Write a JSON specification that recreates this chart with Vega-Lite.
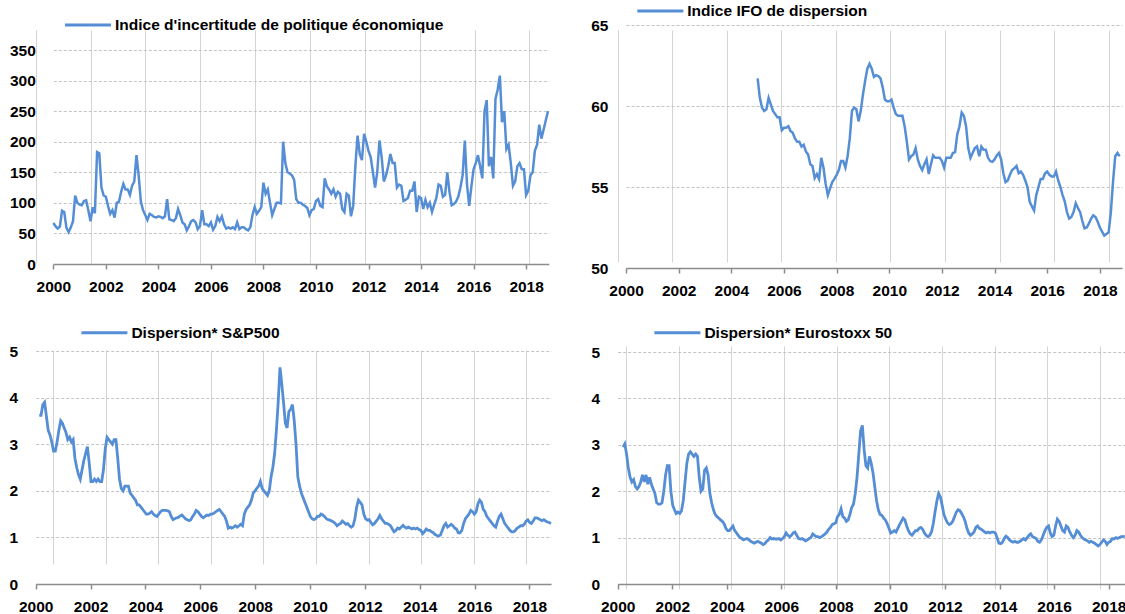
{
"$schema":"https://vega.github.io/schema/vega-lite/v6.json",
"background":"#ffffff",
"width":1125,"height":614,
"autosize":{"type":"none"},
"padding":0,
"config":{
"font":"Liberation Sans, Arial, sans-serif",
"view":{"stroke":null},
"axis":{"labelFont":"Liberation Sans, Arial, sans-serif","labelFontWeight":"bold","labelColor":"#000000","labelFlush":false,"labelOverlap":false,"grid":true},
"axisX":{"gridColor":"#d4d4d4","gridWidth":1,"domainColor":"#8c8c8c","domainWidth":1.5,"tickColor":"#8c8c8c","tickSize":5,"tickWidth":1.5,"labelFontSize":15.5,"labelPadding":10},
"axisY":{"gridColor":"#c4c4c4","gridDash":[3,2],"gridWidth":1,"domain":false,"ticks":false,"tickSize":0,"labelPadding":18,"labelFontSize":15.5},
"legend":{"orient":"none"}
},
"datasets":{
"epu":[
{"t":2000,"v":67},{"t":2000.083,"v":62},{"t":2000.167,"v":58},{"t":2000.25,"v":61},{"t":2000.333,"v":87},{"t":2000.417,"v":85},{"t":2000.5,"v":59},{"t":2000.583,"v":52},{"t":2000.667,"v":60},{"t":2000.75,"v":70},{"t":2000.833,"v":112},{"t":2000.917,"v":100},
{"t":2001,"v":97},{"t":2001.083,"v":96},{"t":2001.167,"v":103},{"t":2001.25,"v":104},{"t":2001.333,"v":88},{"t":2001.417,"v":70},{"t":2001.5,"v":93},{"t":2001.583,"v":83},{"t":2001.667,"v":183},{"t":2001.75,"v":181},{"t":2001.833,"v":125},{"t":2001.917,"v":112},
{"t":2002,"v":110},{"t":2002.083,"v":95},{"t":2002.167,"v":82},{"t":2002.25,"v":88},{"t":2002.333,"v":76},{"t":2002.417,"v":100},{"t":2002.5,"v":102},{"t":2002.583,"v":118},{"t":2002.667,"v":131},{"t":2002.75,"v":122},{"t":2002.833,"v":122},{"t":2002.917,"v":113},
{"t":2003,"v":128},{"t":2003.083,"v":135},{"t":2003.167,"v":178},{"t":2003.25,"v":145},{"t":2003.333,"v":102},{"t":2003.417,"v":88},{"t":2003.5,"v":80},{"t":2003.583,"v":72},{"t":2003.667,"v":82},{"t":2003.75,"v":80},{"t":2003.833,"v":77},{"t":2003.917,"v":76},
{"t":2004,"v":78},{"t":2004.083,"v":77},{"t":2004.167,"v":75},{"t":2004.25,"v":78},{"t":2004.333,"v":106},{"t":2004.417,"v":73},{"t":2004.5,"v":72},{"t":2004.583,"v":70},{"t":2004.667,"v":75},{"t":2004.75,"v":90},{"t":2004.833,"v":80},{"t":2004.917,"v":68},
{"t":2005,"v":65},{"t":2005.083,"v":55},{"t":2005.167,"v":62},{"t":2005.25,"v":70},{"t":2005.333,"v":72},{"t":2005.417,"v":68},{"t":2005.5,"v":57},{"t":2005.583,"v":62},{"t":2005.667,"v":88},{"t":2005.75,"v":65},{"t":2005.833,"v":65},{"t":2005.917,"v":62},
{"t":2006,"v":68},{"t":2006.083,"v":56},{"t":2006.167,"v":62},{"t":2006.25,"v":77},{"t":2006.333,"v":70},{"t":2006.417,"v":78},{"t":2006.5,"v":65},{"t":2006.583,"v":58},{"t":2006.667,"v":60},{"t":2006.75,"v":58},{"t":2006.833,"v":60},{"t":2006.917,"v":57},
{"t":2007,"v":68},{"t":2007.083,"v":57},{"t":2007.167,"v":60},{"t":2007.25,"v":60},{"t":2007.333,"v":57},{"t":2007.417,"v":55},{"t":2007.5,"v":60},{"t":2007.583,"v":80},{"t":2007.667,"v":93},{"t":2007.75,"v":82},{"t":2007.833,"v":87},{"t":2007.917,"v":93},
{"t":2008,"v":133},{"t":2008.083,"v":115},{"t":2008.167,"v":122},{"t":2008.25,"v":100},{"t":2008.333,"v":80},{"t":2008.417,"v":90},{"t":2008.5,"v":100},{"t":2008.583,"v":100},{"t":2008.667,"v":99},{"t":2008.75,"v":200},{"t":2008.833,"v":165},{"t":2008.917,"v":150},
{"t":2009,"v":148},{"t":2009.083,"v":145},{"t":2009.167,"v":138},{"t":2009.25,"v":106},{"t":2009.333,"v":100},{"t":2009.417,"v":100},{"t":2009.5,"v":97},{"t":2009.583,"v":95},{"t":2009.667,"v":92},{"t":2009.75,"v":80},{"t":2009.833,"v":88},{"t":2009.917,"v":90},
{"t":2010,"v":103},{"t":2010.083,"v":106},{"t":2010.167,"v":95},{"t":2010.25,"v":93},{"t":2010.333,"v":140},{"t":2010.417,"v":127},{"t":2010.5,"v":122},{"t":2010.583,"v":115},{"t":2010.667,"v":122},{"t":2010.75,"v":110},{"t":2010.833,"v":118},{"t":2010.917,"v":115},
{"t":2011,"v":90},{"t":2011.083,"v":85},{"t":2011.167,"v":115},{"t":2011.25,"v":112},{"t":2011.333,"v":78},{"t":2011.417,"v":95},{"t":2011.5,"v":160},{"t":2011.583,"v":210},{"t":2011.667,"v":180},{"t":2011.75,"v":170},{"t":2011.833,"v":213},{"t":2011.917,"v":200},
{"t":2012,"v":185},{"t":2012.083,"v":175},{"t":2012.167,"v":150},{"t":2012.25,"v":125},{"t":2012.333,"v":150},{"t":2012.417,"v":202},{"t":2012.5,"v":175},{"t":2012.583,"v":135},{"t":2012.667,"v":145},{"t":2012.75,"v":160},{"t":2012.833,"v":180},{"t":2012.917,"v":165},
{"t":2013,"v":165},{"t":2013.083,"v":125},{"t":2013.167,"v":130},{"t":2013.25,"v":128},{"t":2013.333,"v":103},{"t":2013.417,"v":105},{"t":2013.5,"v":108},{"t":2013.583,"v":120},{"t":2013.667,"v":120},{"t":2013.75,"v":135},{"t":2013.833,"v":85},{"t":2013.917,"v":110},
{"t":2014,"v":108},{"t":2014.083,"v":90},{"t":2014.167,"v":105},{"t":2014.25,"v":93},{"t":2014.333,"v":100},{"t":2014.417,"v":85},{"t":2014.5,"v":97},{"t":2014.583,"v":108},{"t":2014.667,"v":130},{"t":2014.75,"v":128},{"t":2014.833,"v":110},{"t":2014.917,"v":113},
{"t":2015,"v":150},{"t":2015.083,"v":118},{"t":2015.167,"v":96},{"t":2015.25,"v":98},{"t":2015.333,"v":102},{"t":2015.417,"v":110},{"t":2015.5,"v":125},{"t":2015.583,"v":145},{"t":2015.667,"v":202},{"t":2015.75,"v":130},{"t":2015.833,"v":95},{"t":2015.917,"v":127},
{"t":2016,"v":155},{"t":2016.083,"v":165},{"t":2016.167,"v":178},{"t":2016.25,"v":160},{"t":2016.333,"v":140},{"t":2016.417,"v":250},{"t":2016.5,"v":268},{"t":2016.583,"v":160},{"t":2016.667,"v":175},{"t":2016.75,"v":140},{"t":2016.833,"v":270},{"t":2016.917,"v":285},
{"t":2017,"v":308},{"t":2017.083,"v":232},{"t":2017.167,"v":250},{"t":2017.25,"v":188},{"t":2017.333,"v":195},{"t":2017.417,"v":165},{"t":2017.5,"v":128},{"t":2017.583,"v":135},{"t":2017.667,"v":160},{"t":2017.75,"v":165},{"t":2017.833,"v":155},{"t":2017.917,"v":155},
{"t":2018,"v":113},{"t":2018.083,"v":120},{"t":2018.167,"v":145},{"t":2018.25,"v":150},{"t":2018.333,"v":185},{"t":2018.417,"v":195},{"t":2018.5,"v":228},{"t":2018.583,"v":205},{"t":2018.667,"v":220},{"t":2018.75,"v":235},{"t":2018.833,"v":250}
],
"ifo":[
{"t":2005,"v":61.7},{"t":2005.083,"v":60.5},{"t":2005.167,"v":59.9},{"t":2005.25,"v":59.7},{"t":2005.333,"v":59.8},{"t":2005.417,"v":60.5},{"t":2005.5,"v":60.1},{"t":2005.583,"v":59.7},{"t":2005.667,"v":59.5},{"t":2005.75,"v":59.3},{"t":2005.833,"v":59.3},{"t":2005.917,"v":58.5},
{"t":2006,"v":58.65},{"t":2006.083,"v":58.65},{"t":2006.167,"v":58.75},{"t":2006.25,"v":58.45},{"t":2006.333,"v":58.35},{"t":2006.417,"v":58.0},{"t":2006.5,"v":57.8},{"t":2006.583,"v":57.8},{"t":2006.667,"v":57.5},{"t":2006.75,"v":57.6},{"t":2006.833,"v":57.2},{"t":2006.917,"v":57.0},
{"t":2007,"v":56.4},{"t":2007.083,"v":56.3},{"t":2007.167,"v":55.55},{"t":2007.25,"v":55.8},{"t":2007.333,"v":55.5},{"t":2007.417,"v":56.8},{"t":2007.5,"v":56.2},{"t":2007.583,"v":55.2},{"t":2007.667,"v":54.5},{"t":2007.75,"v":54.9},{"t":2007.833,"v":55.3},{"t":2007.917,"v":55.5},
{"t":2008,"v":55.75},{"t":2008.083,"v":56.05},{"t":2008.167,"v":56.6},{"t":2008.25,"v":56.6},{"t":2008.333,"v":56.2},{"t":2008.417,"v":56.9},{"t":2008.5,"v":58.0},{"t":2008.583,"v":59.7},{"t":2008.667,"v":59.9},{"t":2008.75,"v":59.8},{"t":2008.833,"v":59.05},{"t":2008.917,"v":59.7},
{"t":2009,"v":60.7},{"t":2009.083,"v":61.55},{"t":2009.167,"v":62.3},{"t":2009.25,"v":62.6},{"t":2009.333,"v":62.3},{"t":2009.417,"v":61.8},{"t":2009.5,"v":61.9},{"t":2009.583,"v":61.85},{"t":2009.667,"v":61.7},{"t":2009.75,"v":61.15},{"t":2009.833,"v":60.4},{"t":2009.917,"v":60.3},
{"t":2010,"v":60.3},{"t":2010.083,"v":60.4},{"t":2010.167,"v":59.9},{"t":2010.25,"v":59.5},{"t":2010.333,"v":59.4},{"t":2010.417,"v":59.4},{"t":2010.5,"v":59.4},{"t":2010.583,"v":58.75},{"t":2010.667,"v":57.8},{"t":2010.75,"v":56.7},{"t":2010.833,"v":56.9},{"t":2010.917,"v":57.0},
{"t":2011,"v":57.4},{"t":2011.083,"v":56.7},{"t":2011.167,"v":56.3},{"t":2011.25,"v":56.05},{"t":2011.333,"v":56.4},{"t":2011.417,"v":56.7},{"t":2011.5,"v":55.8},{"t":2011.583,"v":56.4},{"t":2011.667,"v":56.95},{"t":2011.75,"v":56.8},{"t":2011.833,"v":56.8},{"t":2011.917,"v":56.8},
{"t":2012,"v":56.6},{"t":2012.083,"v":56.2},{"t":2012.167,"v":56.8},{"t":2012.25,"v":56.8},{"t":2012.333,"v":56.8},{"t":2012.417,"v":57.1},{"t":2012.5,"v":57.15},{"t":2012.583,"v":58.25},{"t":2012.667,"v":58.75},{"t":2012.75,"v":59.6},{"t":2012.833,"v":59.4},{"t":2012.917,"v":58.75},
{"t":2013,"v":57.4},{"t":2013.083,"v":56.8},{"t":2013.167,"v":57.1},{"t":2013.25,"v":57.4},{"t":2013.333,"v":57.5},{"t":2013.417,"v":56.9},{"t":2013.5,"v":57.5},{"t":2013.583,"v":57.3},{"t":2013.667,"v":57.3},{"t":2013.75,"v":56.8},{"t":2013.833,"v":56.6},{"t":2013.917,"v":56.55},
{"t":2014,"v":56.7},{"t":2014.083,"v":56.95},{"t":2014.167,"v":57.1},{"t":2014.25,"v":56.7},{"t":2014.333,"v":55.85},{"t":2014.417,"v":55.3},{"t":2014.5,"v":55.4},{"t":2014.583,"v":55.75},{"t":2014.667,"v":56.05},{"t":2014.75,"v":56.15},{"t":2014.833,"v":56.3},{"t":2014.917,"v":55.85},
{"t":2015,"v":55.95},{"t":2015.083,"v":55.75},{"t":2015.167,"v":55.4},{"t":2015.25,"v":55.0},{"t":2015.333,"v":54.1},{"t":2015.417,"v":53.8},{"t":2015.5,"v":53.55},{"t":2015.583,"v":54.5},{"t":2015.667,"v":55.0},{"t":2015.75,"v":55.5},{"t":2015.833,"v":55.5},{"t":2015.917,"v":55.85},
{"t":2016,"v":55.95},{"t":2016.083,"v":55.75},{"t":2016.167,"v":55.65},{"t":2016.25,"v":55.65},{"t":2016.333,"v":55.95},{"t":2016.417,"v":55.4},{"t":2016.5,"v":55.0},{"t":2016.583,"v":54.5},{"t":2016.667,"v":54.1},{"t":2016.75,"v":53.45},{"t":2016.833,"v":53.05},{"t":2016.917,"v":53.15},
{"t":2017,"v":53.45},{"t":2017.083,"v":54.0},{"t":2017.167,"v":53.7},{"t":2017.25,"v":53.45},{"t":2017.333,"v":52.9},{"t":2017.417,"v":52.45},{"t":2017.5,"v":52.5},{"t":2017.583,"v":52.75},{"t":2017.667,"v":53.05},{"t":2017.75,"v":53.25},{"t":2017.833,"v":53.15},{"t":2017.917,"v":52.85},
{"t":2018,"v":52.5},{"t":2018.083,"v":52.25},{"t":2018.167,"v":52.0},{"t":2018.25,"v":52.1},{"t":2018.333,"v":52.2},{"t":2018.417,"v":53.45},{"t":2018.5,"v":55.35},{"t":2018.583,"v":56.9},{"t":2018.667,"v":57.1},{"t":2018.75,"v":56.9}
],
"sp":[
{"t":2000.13,"v":3.62},{"t":2000.195,"v":3.62},{"t":2000.26,"v":3.85},{"t":2000.325,"v":3.9},{"t":2000.39,"v":3.6},{"t":2000.455,"v":3.3},{"t":2000.52,"v":3.2},{"t":2000.585,"v":3.05},{"t":2000.65,"v":2.85},{"t":2000.715,"v":2.85},{"t":2000.78,"v":3.05},{"t":2000.845,"v":3.3},{"t":2000.91,"v":3.5},{"t":2000.975,"v":3.45},
{"t":2001.04,"v":3.35},{"t":2001.105,"v":3.25},{"t":2001.17,"v":3.1},{"t":2001.235,"v":3.15},{"t":2001.3,"v":3.05},{"t":2001.365,"v":3.1},{"t":2001.43,"v":2.7},{"t":2001.495,"v":2.5},{"t":2001.56,"v":2.35},{"t":2001.625,"v":2.25},{"t":2001.69,"v":2.45},{"t":2001.755,"v":2.65},{"t":2001.82,"v":2.8},{"t":2001.885,"v":2.95},{"t":2001.95,"v":2.6},
{"t":2002.015,"v":2.2},{"t":2002.08,"v":2.2},{"t":2002.145,"v":2.25},{"t":2002.21,"v":2.2},{"t":2002.275,"v":2.25},{"t":2002.34,"v":2.2},{"t":2002.405,"v":2.2},{"t":2002.47,"v":2.45},{"t":2002.535,"v":2.9},{"t":2002.6,"v":3.15},{"t":2002.665,"v":3.1},{"t":2002.73,"v":3.05},{"t":2002.795,"v":3.0},{"t":2002.86,"v":3.1},{"t":2002.925,"v":3.1},{"t":2002.99,"v":2.7},
{"t":2003.055,"v":2.25},{"t":2003.12,"v":2.05},{"t":2003.185,"v":2.0},{"t":2003.25,"v":2.1},{"t":2003.315,"v":2.1},{"t":2003.38,"v":2.1},{"t":2003.445,"v":1.95},{"t":2003.51,"v":1.9},{"t":2003.575,"v":1.85},{"t":2003.64,"v":1.8},{"t":2003.705,"v":1.7},{"t":2003.77,"v":1.7},{"t":2003.835,"v":1.65},{"t":2003.9,"v":1.6},{"t":2003.965,"v":1.55},
{"t":2004.03,"v":1.5},{"t":2004.095,"v":1.5},{"t":2004.16,"v":1.52},{"t":2004.225,"v":1.55},{"t":2004.29,"v":1.5},{"t":2004.355,"v":1.47},{"t":2004.42,"v":1.45},{"t":2004.485,"v":1.5},{"t":2004.55,"v":1.55},{"t":2004.615,"v":1.58},{"t":2004.68,"v":1.58},{"t":2004.745,"v":1.58},{"t":2004.81,"v":1.57},{"t":2004.875,"v":1.55},{"t":2004.94,"v":1.45},
{"t":2005.005,"v":1.38},{"t":2005.07,"v":1.4},{"t":2005.135,"v":1.42},{"t":2005.2,"v":1.43},{"t":2005.265,"v":1.46},{"t":2005.33,"v":1.48},{"t":2005.395,"v":1.44},{"t":2005.46,"v":1.4},{"t":2005.525,"v":1.38},{"t":2005.59,"v":1.36},{"t":2005.655,"v":1.38},{"t":2005.72,"v":1.45},{"t":2005.785,"v":1.5},{"t":2005.85,"v":1.58},{"t":2005.915,"v":1.55},{"t":2005.98,"v":1.5},
{"t":2006.045,"v":1.45},{"t":2006.11,"v":1.42},{"t":2006.175,"v":1.45},{"t":2006.24,"v":1.48},{"t":2006.305,"v":1.47},{"t":2006.37,"v":1.5},{"t":2006.435,"v":1.5},{"t":2006.5,"v":1.52},{"t":2006.565,"v":1.55},{"t":2006.63,"v":1.58},{"t":2006.695,"v":1.6},{"t":2006.76,"v":1.55},{"t":2006.825,"v":1.5},{"t":2006.89,"v":1.45},{"t":2006.955,"v":1.35},
{"t":2007.02,"v":1.2},{"t":2007.085,"v":1.22},{"t":2007.15,"v":1.2},{"t":2007.215,"v":1.22},{"t":2007.28,"v":1.25},{"t":2007.345,"v":1.22},{"t":2007.41,"v":1.25},{"t":2007.475,"v":1.28},{"t":2007.54,"v":1.25},{"t":2007.605,"v":1.5},{"t":2007.67,"v":1.6},{"t":2007.735,"v":1.65},{"t":2007.8,"v":1.7},{"t":2007.865,"v":1.8},{"t":2007.93,"v":1.95},{"t":2007.995,"v":2.0},
{"t":2008.06,"v":2.05},{"t":2008.125,"v":2.1},{"t":2008.19,"v":2.2},{"t":2008.255,"v":2.05},{"t":2008.32,"v":2.0},{"t":2008.385,"v":1.95},{"t":2008.45,"v":1.9},{"t":2008.515,"v":2.0},{"t":2008.58,"v":2.3},{"t":2008.645,"v":2.5},{"t":2008.71,"v":2.8},{"t":2008.775,"v":3.3},{"t":2008.84,"v":3.9},{"t":2008.905,"v":4.65},{"t":2008.97,"v":4.3},
{"t":2009.035,"v":3.9},{"t":2009.1,"v":3.45},{"t":2009.165,"v":3.35},{"t":2009.23,"v":3.7},{"t":2009.295,"v":3.75},{"t":2009.36,"v":3.85},{"t":2009.425,"v":3.5},{"t":2009.49,"v":3.0},{"t":2009.555,"v":2.3},{"t":2009.62,"v":2.1},{"t":2009.685,"v":1.95},{"t":2009.75,"v":1.85},{"t":2009.815,"v":1.75},{"t":2009.88,"v":1.65},{"t":2009.945,"v":1.55},
{"t":2010.01,"v":1.45},{"t":2010.075,"v":1.4},{"t":2010.14,"v":1.38},{"t":2010.205,"v":1.4},{"t":2010.27,"v":1.45},{"t":2010.335,"v":1.45},{"t":2010.4,"v":1.5},{"t":2010.465,"v":1.48},{"t":2010.53,"v":1.45},{"t":2010.595,"v":1.4},{"t":2010.66,"v":1.38},{"t":2010.725,"v":1.37},{"t":2010.79,"v":1.35},{"t":2010.855,"v":1.33},{"t":2010.92,"v":1.3},{"t":2010.985,"v":1.25},
{"t":2011.05,"v":1.28},{"t":2011.115,"v":1.3},{"t":2011.18,"v":1.35},{"t":2011.245,"v":1.32},{"t":2011.31,"v":1.28},{"t":2011.375,"v":1.3},{"t":2011.44,"v":1.25},{"t":2011.505,"v":1.22},{"t":2011.57,"v":1.25},{"t":2011.635,"v":1.4},{"t":2011.7,"v":1.65},{"t":2011.765,"v":1.8},{"t":2011.83,"v":1.75},{"t":2011.895,"v":1.7},{"t":2011.96,"v":1.5},
{"t":2012.025,"v":1.4},{"t":2012.09,"v":1.37},{"t":2012.155,"v":1.38},{"t":2012.22,"v":1.32},{"t":2012.285,"v":1.27},{"t":2012.35,"v":1.3},{"t":2012.415,"v":1.35},{"t":2012.48,"v":1.4},{"t":2012.545,"v":1.47},{"t":2012.61,"v":1.4},{"t":2012.675,"v":1.35},{"t":2012.74,"v":1.3},{"t":2012.805,"v":1.3},{"t":2012.87,"v":1.28},{"t":2012.935,"v":1.25},
{"t":2013.0,"v":1.18},{"t":2013.065,"v":1.12},{"t":2013.13,"v":1.15},{"t":2013.195,"v":1.2},{"t":2013.26,"v":1.18},{"t":2013.325,"v":1.22},{"t":2013.39,"v":1.26},{"t":2013.455,"v":1.22},{"t":2013.52,"v":1.2},{"t":2013.585,"v":1.22},{"t":2013.65,"v":1.2},{"t":2013.715,"v":1.18},{"t":2013.78,"v":1.2},{"t":2013.845,"v":1.18},{"t":2013.91,"v":1.2},{"t":2013.975,"v":1.17},
{"t":2014.04,"v":1.15},{"t":2014.105,"v":1.08},{"t":2014.17,"v":1.12},{"t":2014.235,"v":1.18},{"t":2014.3,"v":1.15},{"t":2014.365,"v":1.15},{"t":2014.43,"v":1.12},{"t":2014.495,"v":1.1},{"t":2014.56,"v":1.06},{"t":2014.625,"v":1.04},{"t":2014.69,"v":1.03},{"t":2014.755,"v":1.05},{"t":2014.82,"v":1.15},{"t":2014.885,"v":1.25},{"t":2014.95,"v":1.3},
{"t":2015.015,"v":1.22},{"t":2015.08,"v":1.25},{"t":2015.145,"v":1.28},{"t":2015.21,"v":1.25},{"t":2015.275,"v":1.2},{"t":2015.34,"v":1.18},{"t":2015.405,"v":1.1},{"t":2015.47,"v":1.1},{"t":2015.535,"v":1.15},{"t":2015.6,"v":1.3},{"t":2015.665,"v":1.4},{"t":2015.73,"v":1.45},{"t":2015.795,"v":1.5},{"t":2015.86,"v":1.58},{"t":2015.925,"v":1.55},{"t":2015.99,"v":1.5},
{"t":2016.055,"v":1.55},{"t":2016.12,"v":1.72},{"t":2016.185,"v":1.8},{"t":2016.25,"v":1.75},{"t":2016.315,"v":1.6},{"t":2016.38,"v":1.55},{"t":2016.445,"v":1.45},{"t":2016.51,"v":1.4},{"t":2016.575,"v":1.35},{"t":2016.64,"v":1.3},{"t":2016.705,"v":1.25},{"t":2016.77,"v":1.22},{"t":2016.835,"v":1.35},{"t":2016.9,"v":1.45},{"t":2016.965,"v":1.5},
{"t":2017.03,"v":1.4},{"t":2017.095,"v":1.3},{"t":2017.16,"v":1.25},{"t":2017.225,"v":1.2},{"t":2017.29,"v":1.15},{"t":2017.355,"v":1.12},{"t":2017.42,"v":1.12},{"t":2017.485,"v":1.15},{"t":2017.55,"v":1.2},{"t":2017.615,"v":1.22},{"t":2017.68,"v":1.25},{"t":2017.745,"v":1.25},{"t":2017.81,"v":1.28},{"t":2017.875,"v":1.35},{"t":2017.94,"v":1.38},
{"t":2018.005,"v":1.32},{"t":2018.07,"v":1.3},{"t":2018.135,"v":1.35},{"t":2018.2,"v":1.42},{"t":2018.265,"v":1.42},{"t":2018.33,"v":1.4},{"t":2018.395,"v":1.38},{"t":2018.46,"v":1.36},{"t":2018.525,"v":1.38},{"t":2018.59,"v":1.35},{"t":2018.655,"v":1.33},{"t":2018.72,"v":1.32},{"t":2018.785,"v":1.3}
],
"es":[
{"t":2000.195,"v":2.95},{"t":2000.26,"v":3.02},{"t":2000.325,"v":2.8},{"t":2000.39,"v":2.5},{"t":2000.455,"v":2.3},{"t":2000.52,"v":2.2},{"t":2000.585,"v":2.25},{"t":2000.65,"v":2.1},{"t":2000.715,"v":2.05},{"t":2000.78,"v":2.1},{"t":2000.845,"v":2.2},{"t":2000.91,"v":2.35},{"t":2000.975,"v":2.2},
{"t":2001.04,"v":2.35},{"t":2001.105,"v":2.15},{"t":2001.17,"v":2.3},{"t":2001.235,"v":2.15},{"t":2001.3,"v":2.05},{"t":2001.365,"v":1.95},{"t":2001.43,"v":1.75},{"t":2001.495,"v":1.72},{"t":2001.56,"v":1.72},{"t":2001.625,"v":1.75},{"t":2001.69,"v":2.0},{"t":2001.755,"v":2.35},{"t":2001.82,"v":2.55},{"t":2001.885,"v":2.55},{"t":2001.95,"v":2.0},
{"t":2002.015,"v":1.7},{"t":2002.08,"v":1.6},{"t":2002.145,"v":1.52},{"t":2002.21,"v":1.55},{"t":2002.275,"v":1.52},{"t":2002.34,"v":1.58},{"t":2002.405,"v":1.8},{"t":2002.47,"v":2.2},{"t":2002.535,"v":2.6},{"t":2002.6,"v":2.8},{"t":2002.665,"v":2.85},{"t":2002.73,"v":2.8},{"t":2002.795,"v":2.75},{"t":2002.86,"v":2.8},{"t":2002.925,"v":2.75},{"t":2002.99,"v":2.3},
{"t":2003.055,"v":2.0},{"t":2003.12,"v":2.05},{"t":2003.185,"v":2.45},{"t":2003.25,"v":2.5},{"t":2003.315,"v":2.35},{"t":2003.38,"v":1.95},{"t":2003.445,"v":1.75},{"t":2003.51,"v":1.6},{"t":2003.575,"v":1.5},{"t":2003.64,"v":1.45},{"t":2003.705,"v":1.42},{"t":2003.77,"v":1.38},{"t":2003.835,"v":1.35},{"t":2003.9,"v":1.3},{"t":2003.965,"v":1.2},
{"t":2004.03,"v":1.15},{"t":2004.095,"v":1.15},{"t":2004.16,"v":1.2},{"t":2004.225,"v":1.25},{"t":2004.29,"v":1.15},{"t":2004.355,"v":1.1},{"t":2004.42,"v":1.05},{"t":2004.485,"v":1.0},{"t":2004.55,"v":0.98},{"t":2004.615,"v":0.95},{"t":2004.68,"v":0.97},{"t":2004.745,"v":0.98},{"t":2004.81,"v":0.95},{"t":2004.875,"v":0.92},{"t":2004.94,"v":0.9},
{"t":2005.005,"v":0.88},{"t":2005.07,"v":0.9},{"t":2005.135,"v":0.92},{"t":2005.2,"v":0.9},{"t":2005.265,"v":0.88},{"t":2005.33,"v":0.85},{"t":2005.395,"v":0.87},{"t":2005.46,"v":0.92},{"t":2005.525,"v":0.95},{"t":2005.59,"v":1.0},{"t":2005.655,"v":0.97},{"t":2005.72,"v":0.98},{"t":2005.785,"v":0.97},{"t":2005.85,"v":0.97},{"t":2005.915,"v":0.98},{"t":2005.98,"v":0.95},
{"t":2006.045,"v":0.98},{"t":2006.11,"v":1.02},{"t":2006.175,"v":1.1},{"t":2006.24,"v":1.05},{"t":2006.305,"v":1.02},{"t":2006.37,"v":1.05},{"t":2006.435,"v":1.1},{"t":2006.5,"v":1.12},{"t":2006.565,"v":1.05},{"t":2006.63,"v":0.98},{"t":2006.695,"v":0.97},{"t":2006.76,"v":0.98},{"t":2006.825,"v":0.95},{"t":2006.89,"v":0.93},{"t":2006.955,"v":0.95},
{"t":2007.02,"v":0.98},{"t":2007.085,"v":1.0},{"t":2007.15,"v":1.08},{"t":2007.215,"v":1.05},{"t":2007.28,"v":1.02},{"t":2007.345,"v":1.02},{"t":2007.41,"v":1.0},{"t":2007.475,"v":1.02},{"t":2007.54,"v":1.05},{"t":2007.605,"v":1.08},{"t":2007.67,"v":1.12},{"t":2007.735,"v":1.18},{"t":2007.8,"v":1.22},{"t":2007.865,"v":1.28},{"t":2007.93,"v":1.3},{"t":2007.995,"v":1.32},
{"t":2008.06,"v":1.45},{"t":2008.125,"v":1.5},{"t":2008.19,"v":1.62},{"t":2008.255,"v":1.45},{"t":2008.32,"v":1.42},{"t":2008.385,"v":1.35},{"t":2008.45,"v":1.38},{"t":2008.515,"v":1.5},{"t":2008.58,"v":1.65},{"t":2008.645,"v":1.72},{"t":2008.71,"v":1.95},{"t":2008.775,"v":2.3},{"t":2008.84,"v":2.8},{"t":2008.905,"v":3.3},{"t":2008.97,"v":3.42},
{"t":2009.035,"v":2.9},{"t":2009.1,"v":2.55},{"t":2009.165,"v":2.5},{"t":2009.23,"v":2.75},{"t":2009.295,"v":2.6},{"t":2009.36,"v":2.4},{"t":2009.425,"v":2.1},{"t":2009.49,"v":1.8},{"t":2009.555,"v":1.6},{"t":2009.62,"v":1.5},{"t":2009.685,"v":1.48},{"t":2009.75,"v":1.42},{"t":2009.815,"v":1.38},{"t":2009.88,"v":1.3},{"t":2009.945,"v":1.2},
{"t":2010.01,"v":1.1},{"t":2010.075,"v":1.12},{"t":2010.14,"v":1.15},{"t":2010.205,"v":1.12},{"t":2010.27,"v":1.2},{"t":2010.335,"v":1.28},{"t":2010.4,"v":1.35},{"t":2010.465,"v":1.42},{"t":2010.53,"v":1.38},{"t":2010.595,"v":1.25},{"t":2010.66,"v":1.15},{"t":2010.725,"v":1.08},{"t":2010.79,"v":1.05},{"t":2010.855,"v":1.1},{"t":2010.92,"v":1.15},{"t":2010.985,"v":1.15},
{"t":2011.05,"v":1.2},{"t":2011.115,"v":1.22},{"t":2011.18,"v":1.18},{"t":2011.245,"v":1.1},{"t":2011.31,"v":1.05},{"t":2011.375,"v":1.02},{"t":2011.44,"v":1.05},{"t":2011.505,"v":1.12},{"t":2011.57,"v":1.3},{"t":2011.635,"v":1.55},{"t":2011.7,"v":1.78},{"t":2011.765,"v":1.95},{"t":2011.83,"v":1.88},{"t":2011.895,"v":1.7},{"t":2011.96,"v":1.5},
{"t":2012.025,"v":1.4},{"t":2012.09,"v":1.32},{"t":2012.155,"v":1.28},{"t":2012.22,"v":1.3},{"t":2012.285,"v":1.35},{"t":2012.35,"v":1.45},{"t":2012.415,"v":1.55},{"t":2012.48,"v":1.6},{"t":2012.545,"v":1.58},{"t":2012.61,"v":1.52},{"t":2012.675,"v":1.45},{"t":2012.74,"v":1.35},{"t":2012.805,"v":1.2},{"t":2012.87,"v":1.1},{"t":2012.935,"v":1.05},
{"t":2013.0,"v":1.08},{"t":2013.065,"v":1.12},{"t":2013.13,"v":1.22},{"t":2013.195,"v":1.25},{"t":2013.26,"v":1.2},{"t":2013.325,"v":1.18},{"t":2013.39,"v":1.15},{"t":2013.455,"v":1.12},{"t":2013.52,"v":1.1},{"t":2013.585,"v":1.12},{"t":2013.65,"v":1.1},{"t":2013.715,"v":1.12},{"t":2013.78,"v":1.12},{"t":2013.845,"v":1.1},{"t":2013.91,"v":1.0},{"t":2013.975,"v":0.88},
{"t":2014.04,"v":0.87},{"t":2014.105,"v":0.9},{"t":2014.17,"v":0.98},{"t":2014.235,"v":1.03},{"t":2014.3,"v":1.0},{"t":2014.365,"v":0.95},{"t":2014.43,"v":0.92},{"t":2014.495,"v":0.9},{"t":2014.56,"v":0.92},{"t":2014.625,"v":0.9},{"t":2014.69,"v":0.9},{"t":2014.755,"v":0.92},{"t":2014.82,"v":0.95},{"t":2014.885,"v":0.98},{"t":2014.95,"v":0.95},
{"t":2015.015,"v":1.0},{"t":2015.08,"v":1.05},{"t":2015.145,"v":1.08},{"t":2015.21,"v":1.02},{"t":2015.275,"v":1.0},{"t":2015.34,"v":0.98},{"t":2015.405,"v":0.92},{"t":2015.47,"v":0.9},{"t":2015.535,"v":0.95},{"t":2015.6,"v":1.05},{"t":2015.665,"v":1.15},{"t":2015.73,"v":1.22},{"t":2015.795,"v":1.25},{"t":2015.86,"v":1.1},{"t":2015.925,"v":1.02},{"t":2015.99,"v":1.05},
{"t":2016.055,"v":1.25},{"t":2016.12,"v":1.4},{"t":2016.185,"v":1.35},{"t":2016.25,"v":1.25},{"t":2016.315,"v":1.15},{"t":2016.38,"v":1.12},{"t":2016.445,"v":1.25},{"t":2016.51,"v":1.22},{"t":2016.575,"v":1.12},{"t":2016.64,"v":1.05},{"t":2016.705,"v":1.0},{"t":2016.77,"v":1.05},{"t":2016.835,"v":1.15},{"t":2016.9,"v":1.12},{"t":2016.965,"v":1.05},
{"t":2017.03,"v":1.0},{"t":2017.095,"v":0.97},{"t":2017.16,"v":0.95},{"t":2017.225,"v":0.93},{"t":2017.29,"v":0.9},{"t":2017.355,"v":0.92},{"t":2017.42,"v":0.9},{"t":2017.485,"v":0.88},{"t":2017.55,"v":0.85},{"t":2017.615,"v":0.82},{"t":2017.68,"v":0.85},{"t":2017.745,"v":0.9},{"t":2017.81,"v":0.95},{"t":2017.875,"v":0.92},{"t":2017.94,"v":0.85},
{"t":2018.005,"v":0.9},{"t":2018.07,"v":0.92},{"t":2018.135,"v":0.98},{"t":2018.2,"v":0.97},{"t":2018.265,"v":1.0},{"t":2018.33,"v":0.98},{"t":2018.395,"v":1.0},{"t":2018.46,"v":1.02},{"t":2018.525,"v":1.02},{"t":2018.59,"v":1.03}
]
},
"resolve":{"scale":{"x":"independent","y":"independent","color":"independent"},"axis":{"x":"independent","y":"independent"},"legend":{"color":"independent"}},
"layer":[
{"data":{"name":"epu"},"mark":{"type":"line","strokeWidth":2.5},
"encoding":{
"x":{"field":"t","type":"quantitative","scale":{"domain":[2000,2018.86],"range":[53.3,548.7],"nice":false,"zero":false},"axis":{"title":null,"orient":"bottom","offset":-350,"grid":true,"values":[2000,2002,2004,2006,2008,2010,2012,2014,2016,2018],"format":"d"}},
"y":{"field":"v","type":"quantitative","scale":{"domain":[0,350],"range":[264,50],"nice":false},"axis":{"title":null,"orient":"left","offset":-53.3,"grid":true,"values":[0,50,100,150,200,250,300,350]}},
"color":{"datum":"Indice d'incertitude de politique économique","scale":{"range":["#558ED5"]},"legend":{"title":null,"orient":"none","legendX":65,"legendY":17.25,"padding":0,"symbolType":"M-10,0H10","symbolSize":21.16,"symbolStrokeWidth":3,"symbolOffset":15.25,"labelOffset":19.25,"labelFont":"Liberation Sans, Arial, sans-serif","labelFontSize":15.5,"labelFontWeight":"bold","labelColor":"#000000","labelLimit":0}}
}},
{"data":{"name":"ifo"},"mark":{"type":"line","strokeWidth":2.5},
"encoding":{
"x":{"field":"t","type":"quantitative","scale":{"domain":[2000,2018.84],"range":[626,1122],"nice":false,"zero":false},"axis":{"title":null,"orient":"bottom","offset":-346,"grid":true,"values":[2000,2002,2004,2006,2008,2010,2012,2014,2016,2018],"format":"d"}},
"y":{"field":"v","type":"quantitative","scale":{"domain":[50,65],"range":[268,25],"nice":false,"zero":false},"axis":{"title":null,"orient":"left","offset":-626,"grid":true,"values":[50,55,60,65]}},
"color":{"datum":"Indice IFO de dispersion","scale":{"range":["#558ED5"]},"legend":{"title":null,"orient":"none","legendX":637.3,"legendY":3.25,"padding":0,"symbolType":"M-10,0H10","symbolSize":21.16,"symbolStrokeWidth":3,"symbolOffset":15.25,"labelOffset":19.25,"labelFont":"Liberation Sans, Arial, sans-serif","labelFontSize":15.5,"labelFontWeight":"bold","labelColor":"#000000","labelLimit":0}}
}},
{"data":{"name":"sp"},"mark":{"type":"line","strokeWidth":2.8},
"encoding":{
"x":{"field":"t","type":"quantitative","scale":{"domain":[2000,2018.785],"range":[35.7,551],"nice":false,"zero":false},"axis":{"title":null,"orient":"bottom","offset":-30,"grid":true,"values":[2000,2002,2004,2006,2008,2010,2012,2014,2016,2018],"format":"d"}},
"y":{"field":"v","type":"quantitative","scale":{"domain":[0,5],"range":[584,351],"nice":false},"axis":{"title":null,"orient":"left","offset":-35.7,"grid":true,"values":[0,1,2,3,4,5]}},
"color":{"datum":"Dispersion* S&P500","scale":{"range":["#558ED5"]},"legend":{"title":null,"orient":"none","legendX":81.4,"legendY":324.95,"padding":0,"symbolType":"M-10,0H10","symbolSize":21.16,"symbolStrokeWidth":3,"symbolOffset":15.25,"labelOffset":19.25,"labelFont":"Liberation Sans, Arial, sans-serif","labelFontSize":15.5,"labelFontWeight":"bold","labelColor":"#000000","labelLimit":0}}
}},
{"data":{"name":"es"},"mark":{"type":"line","strokeWidth":2.8},
"encoding":{
"x":{"field":"t","type":"quantitative","scale":{"domain":[2000,2018.6],"range":[617.7,1125],"nice":false,"zero":false},"axis":{"title":null,"orient":"bottom","offset":-30,"grid":true,"values":[2000,2002,2004,2006,2008,2010,2012,2014,2016,2018],"format":"d"}},
"y":{"field":"v","type":"quantitative","scale":{"domain":[0,5],"range":[584,352],"nice":false},"axis":{"title":null,"orient":"left","offset":-617.7,"grid":true,"values":[0,1,2,3,4,5]}},
"color":{"datum":"Dispersion* Eurostoxx 50","scale":{"range":["#558ED5"]},"legend":{"title":null,"orient":"none","legendX":654.4,"legendY":324.95,"padding":0,"symbolType":"M-10,0H10","symbolSize":21.16,"symbolStrokeWidth":3,"symbolOffset":15.25,"labelOffset":19.25,"labelFont":"Liberation Sans, Arial, sans-serif","labelFontSize":15.5,"labelFontWeight":"bold","labelColor":"#000000","labelLimit":0}}
}}
]
}
